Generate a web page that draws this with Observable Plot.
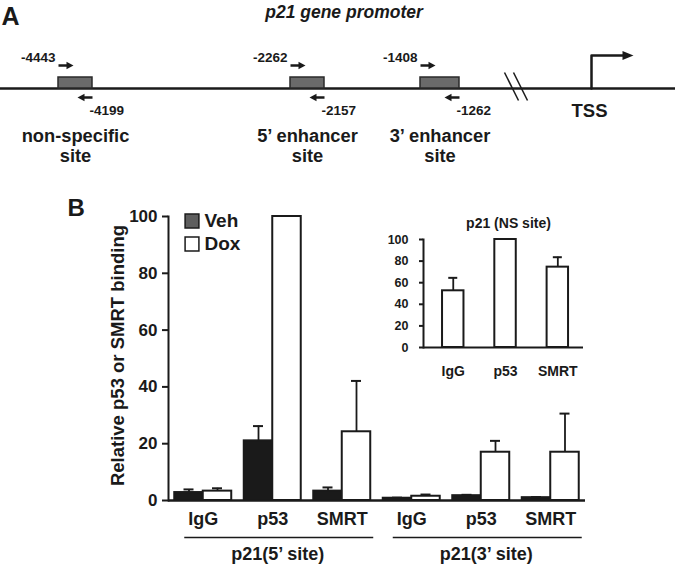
<!DOCTYPE html>
<html><head><meta charset="utf-8">
<script src="https://cdn.jsdelivr.net/npm/d3@7"></script>
<script src="https://cdn.jsdelivr.net/npm/@observablehq/plot@0.6"></script>
<style>
html,body{margin:0;padding:0;background:#fff;}
#fig{position:relative;width:675px;height:566px;overflow:hidden;background:#fff;}
#fig > svg{position:absolute;left:0;top:0;}
svg.mainplot g[aria-label^="y-axis"], svg.mainplot g[aria-label^="y-axis"] text{font-size:17px !important;font-weight:bold !important;}
svg.insetplot g[aria-label^="y-axis"], svg.insetplot g[aria-label^="y-axis"] text{font-size:12.5px !important;font-weight:bold !important;}
svg.mainplot g[aria-label^="y-axis"] path, svg.mainplot g[aria-label^="y-axis"] line,
svg.insetplot g[aria-label^="y-axis"] path, svg.insetplot g[aria-label^="y-axis"] line{stroke-width:2px !important;}
</style></head><body><div id="fig"></div>
<script>
// ---------- Panel B data ----------
const categories = ["IgG", "p53", "SMRT", "IgG", "p53", "SMRT"];
const groupIndex = [0, 0, 0, 1, 1, 1];
const groupLabels = ["p21(5’ site)", "p21(3’ site)"];
const seriesLabels = ["Veh", "Dox"];
const vehValues = [2.8, 21.0, 3.3, 0.8, 1.7, 1.0];
const vehErrors = [1.1, 5.2, 1.3, 0.2, 0.3, 0.2];
const doxValues = [3.3, 100, 24.2, 1.5, 17.0, 17.0];
const doxErrors = [1.0, 0, 17.9, 0.6, 4.0, 13.6];
const yTicks = [0, 20, 40, 60, 80, 100];
const yTitle = "Relative p53 or SMRT binding";

// ---------- Inset data ----------
const insetTitle = "p21 (NS site)";
const insetCategories = ["IgG", "p53", "SMRT"];
const insetValues = [52.5, 100, 74.4];
const insetErrors = [12.0, 0, 9.2];
const insetTicks = [0, 20, 40, 60, 80, 100];

// ---------- Panel A (schematic) text ----------
const promoterTitle = "p21 gene promoter";
const siteNames = ["non-specific\nsite", "5’ enhancer\nsite", "3’ enhancer\nsite"];
const forwardPrimers = ["-4443", "-2262", "-1408"];
const reversePrimers = ["-4199", "-2157", "-1262"];
const tssLabel = "TSS";

// ---------- layout / style ----------
const W = 675, H = 566;
const FONT = "'Liberation Sans', Arial, Helvetica, sans-serif";
const INK = "#1a1a1a";
const fig = document.getElementById("fig");

// ===== Panel A: schematic of the promoter (diagram units = px of the figure) =====
const schematic = {
  lineY: 88, boxTop: 77, fwdY: 65, revY: 97,
  siteStart: [58, 290, 420], siteEnd: [92, 324, 459],
  arrowLen: 15, headLen: 7, headHalf: 3.8,
  breakX: [504, 513], breakTop: 72, breakBottom: 100, breakSlant: 14,
  tssX: 591, tssTop: 55, tssEnd: 633
};
const sitesA = siteNames.map((name, i) => ({
  name, fwd: forwardPrimers[i], rev: reversePrimers[i],
  x1: schematic.siteStart[i], x2: schematic.siteEnd[i]
}));
const shafts = [], heads = [];
sitesA.forEach((s, i) => {
  const L = schematic.arrowLen, h = schematic.headLen, hh = schematic.headHalf;
  shafts.push({x1: s.x1, y1: schematic.fwdY, x2: s.x1 + L - h + 1, y2: schematic.fwdY});
  heads.push({id: "f" + i, x: s.x1 + L - h, y: schematic.fwdY - hh}, {id: "f" + i, x: s.x1 + L, y: schematic.fwdY}, {id: "f" + i, x: s.x1 + L - h, y: schematic.fwdY + hh});
  shafts.push({x1: s.x2, y1: schematic.revY, x2: s.x2 - L + h - 1, y2: schematic.revY});
  heads.push({id: "r" + i, x: s.x2 - L + h, y: schematic.revY - hh}, {id: "r" + i, x: s.x2 - L, y: schematic.revY}, {id: "r" + i, x: s.x2 - L + h, y: schematic.revY + hh});
});
heads.push({id: "t", x: schematic.tssEnd - 11, y: schematic.tssTop - 4.5}, {id: "t", x: schematic.tssEnd, y: schematic.tssTop}, {id: "t", x: schematic.tssEnd - 11, y: schematic.tssTop + 4.5});
const tssPath = [
  {x: schematic.tssX, y: schematic.lineY}, {x: schematic.tssX, y: schematic.tssTop}, {x: schematic.tssEnd - 10, y: schematic.tssTop}
];
const breaks = schematic.breakX.map(x => ({x1: x, y1: schematic.breakTop, x2: x + schematic.breakSlant, y2: schematic.breakBottom}));

const panelA = Plot.plot({
  width: W, height: H, margin: 0,
  x: {domain: [0, W], range: [0, W], axis: null},
  y: {domain: [0, H], range: [0, H], axis: null},
  style: {background: "transparent", color: INK, fontFamily: FONT},
  marks: [
    Plot.ruleY([schematic.lineY], {y: d => d, stroke: INK, strokeWidth: 2.5}),
    Plot.link(breaks, {x1: "x1", y1: "y1", x2: "x2", y2: "y2", stroke: INK, strokeWidth: 1.5}),
    Plot.rect(sitesA, {x1: "x1", x2: "x2", y1: () => schematic.boxTop, y2: () => schematic.lineY, fill: "#6a6a6a", stroke: "#2a2a2a", strokeWidth: 1.5}),
    Plot.link(shafts, {x1: "x1", y1: "y1", x2: "x2", y2: "y2", stroke: INK, strokeWidth: 2.5}),
    Plot.line(tssPath, {x: "x", y: "y", stroke: INK, strokeWidth: 2.5}),
    Plot.line(heads, {x: "x", y: "y", z: "id", fill: INK, stroke: "none"}),
    Plot.text(sitesA, {x: "x1", y: () => 57, dx: -3, text: "fwd", textAnchor: "end", lineAnchor: "middle", fontSize: 13.5, fontWeight: "bold"}),
    Plot.text(sitesA, {x: "x2", y: () => 110, dx: -3, text: "rev", textAnchor: "start", lineAnchor: "middle", fontSize: 13.5, fontWeight: "bold"}),
    Plot.text(sitesA, {x: d => (d.x1 + d.x2) / 2, y: () => 145, text: "name", textAnchor: "middle", lineAnchor: "middle", lineHeight: 1.1, fontSize: 18.3, fontWeight: "bold"}),
    Plot.text([tssLabel], {x: () => schematic.tssX, y: () => 111, dx: -2, text: d => d, lineAnchor: "middle", fontSize: 18.5, fontWeight: "bold"}),
    Plot.text([promoterTitle], {x: () => W / 2, y: () => 12, dx: 6, text: d => d, lineAnchor: "middle", fontSize: 17.5, fontWeight: "bold", fontStyle: "italic"}),
    Plot.text(["A"], {x: () => 1, y: () => 16, text: d => d, textAnchor: "start", lineAnchor: "middle", fontSize: 25, fontWeight: "bold"})
  ]
});
fig.appendChild(panelA);

// ===== Panel B: main grouped bar chart =====
const rows = categories.map((c, i) => ({
  key: i, cat: c, group: groupIndex[i],
  veh: vehValues[i], vehErr: vehErrors[i], dox: doxValues[i], doxErr: doxErrors[i]
}));
const keys = rows.map(d => d.key);
const M = {top: 216, right: 90, bottom: 66, left: 168};
const pIn = 0.18, pOut = 0.09;
const bw = d3.scaleBand(keys, [M.left, W - M.right]).paddingInner(pIn).paddingOuter(pOut).bandwidth();
const capW = 10;
const groups = groupLabels.map((label, g) => {
  const ks = rows.filter(d => d.group === g).map(d => d.key);
  return {label, first: ks[0], last: ks[ks.length - 1], mid: ks[Math.floor(ks.length / 2)]};
});
const series = [
  {name: seriesLabels[0], v: "veh", e: "vehErr", fill: INK, legendFill: "#5e5e5e", side: -1},
  {name: seriesLabels[1], v: "dox", e: "doxErr", fill: "#ffffff", legendFill: "#ffffff", side: 1}
];

const marks = [];
for (const s of series) {
  marks.push(Plot.barY(rows, {
    x: "key", y: s.v, fill: s.fill, stroke: INK, strokeWidth: 2,
    insetLeft: s.side > 0 ? bw / 2 : 0, insetRight: s.side < 0 ? bw / 2 : 0
  }));
}
for (const s of series) {
  const withErr = rows.filter(d => d[s.e] > 0);
  marks.push(Plot.ruleX(withErr, {x: "key", y1: s.v, y2: d => d[s.v] + d[s.e], dx: s.side * bw / 4, stroke: INK, strokeWidth: 1.8}));
  marks.push(Plot.tickY(withErr, {x: "key", y: d => d[s.v] + d[s.e], dx: s.side * bw / 4, insetLeft: (bw - capW) / 2, insetRight: (bw - capW) / 2, stroke: INK, strokeWidth: 2}));
}
marks.push(Plot.ruleY([0], {stroke: INK, strokeWidth: 2.5}));
marks.push(Plot.text(rows, {x: "key", y: () => 0, dy: 19, text: "cat", lineAnchor: "middle", fontSize: 18, fontWeight: "bold"}));
marks.push(Plot.ruleY(groups, {x1: "first", x2: "last", y: () => 0, dy: 37, insetLeft: 10, insetRight: -3, stroke: INK, strokeWidth: 1.5}));
marks.push(Plot.text(groups, {x: "mid", y: () => 0, dy: 54, dx: 5, text: "label", lineAnchor: "middle", fontSize: 18, fontWeight: "bold"}));
series.forEach((s, i) => {
  marks.push(Plot.dot([s], {frameAnchor: "top-left", dx: 23.5, dy: 4.5 + i * 23, symbol: "square", r: 7.8, fill: s.legendFill, stroke: INK, strokeWidth: 1.5}));
  marks.push(Plot.text([s], {frameAnchor: "top-left", dx: 36, dy: 4.5 + i * 23, text: "name", textAnchor: "start", lineAnchor: "middle", fontSize: 19, fontWeight: "bold"}));
});
marks.push(Plot.text([yTitle], {frameAnchor: "left", dx: -50, dy: -3, text: d => d, rotate: -90, textAnchor: "middle", lineAnchor: "middle", fontSize: 18.5, fontWeight: "bold"}));
marks.push(Plot.text(["B"], {frameAnchor: "top-left", dx: 67 - M.left, dy: -8, text: d => d, textAnchor: "start", lineAnchor: "middle", fontSize: 24, fontWeight: "bold"}));

const main = Plot.plot({
  width: W, height: H,
  marginTop: M.top, marginRight: M.right, marginBottom: M.bottom, marginLeft: M.left,
  x: {type: "band", domain: keys, paddingInner: pIn, paddingOuter: pOut, round: false, axis: null},
  y: {domain: [0, 100], ticks: yTicks, tickSize: 6, tickPadding: 5, line: true, label: null},
  style: {background: "transparent", color: INK, fontFamily: FONT, fontSize: "17px", fontWeight: "bold", strokeWidth: "2px"},
  marks
});
main.classList.add("mainplot");
fig.appendChild(main);

// ===== Inset chart =====
const insetRows = insetCategories.map((c, i) => ({cat: c, v: insetValues[i], e: insetErrors[i]}));
const IM = {top: 239, right: 92, bottom: 219, left: 423};
const ipIn = 0.59, ipOut = 0.325, iAlign = 0.56;
const ibw = d3.scaleBand(insetCategories, [IM.left, W - IM.right]).paddingInner(ipIn).paddingOuter(ipOut).align(iAlign).bandwidth();
const iErr = insetRows.filter(d => d.e > 0);
const inset = Plot.plot({
  width: W, height: H,
  marginTop: IM.top, marginRight: IM.right, marginBottom: IM.bottom, marginLeft: IM.left,
  x: {type: "band", domain: insetCategories, paddingInner: ipIn, paddingOuter: ipOut, align: iAlign, round: false, axis: null},
  y: {domain: [0, 100], ticks: insetTicks, tickSize: 4, tickPadding: 11, line: true, label: null},
  style: {background: "transparent", color: INK, fontFamily: FONT, fontSize: "12.5px", fontWeight: "bold", strokeWidth: "2px"},
  marks: [
    Plot.barY(insetRows, {x: "cat", y: "v", fill: "#ffffff", stroke: INK, strokeWidth: 2}),
    Plot.ruleX(iErr, {x: "cat", y1: "v", y2: d => d.v + d.e, stroke: INK, strokeWidth: 1.8}),
    Plot.tickY(iErr, {x: "cat", y: d => d.v + d.e, insetLeft: (ibw - 9) / 2, insetRight: (ibw - 9) / 2, stroke: INK, strokeWidth: 2}),
    Plot.ruleY([0], {stroke: INK, strokeWidth: 2}),
    Plot.text(insetRows, {x: "cat", y: () => 0, dy: 24, text: "cat", lineAnchor: "middle", fontSize: 14, fontWeight: "bold"}),
    Plot.text([insetTitle], {frameAnchor: "top", dx: 5, dy: -16, text: d => d, lineAnchor: "middle", fontSize: 14, fontWeight: "bold"})
  ]
});
inset.classList.add("insetplot");
fig.appendChild(inset);
</script>
</body></html>
